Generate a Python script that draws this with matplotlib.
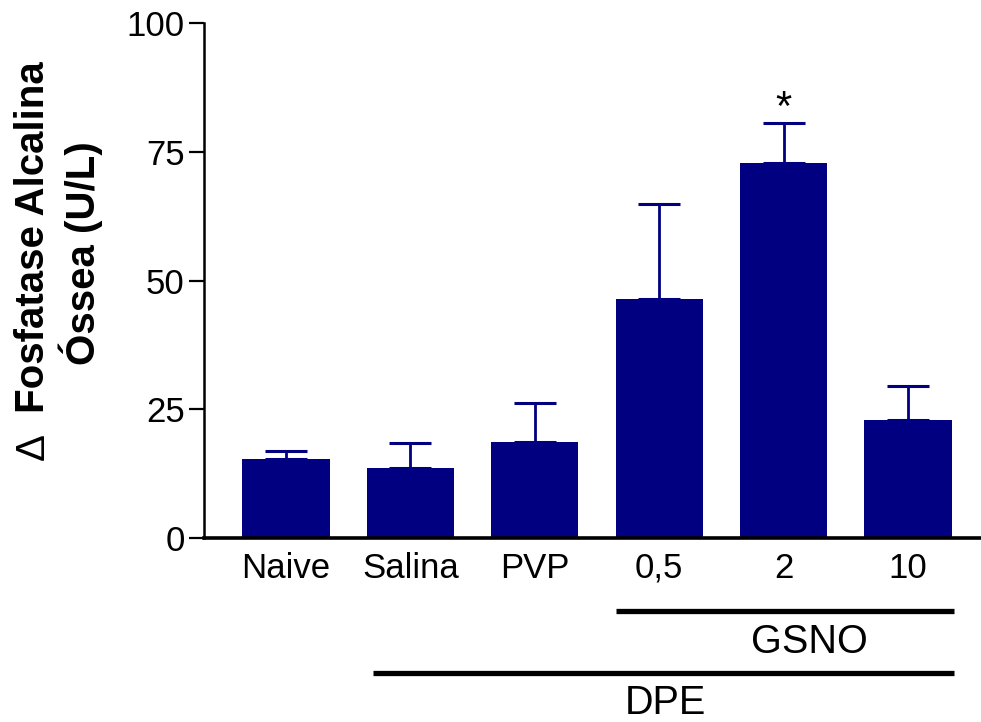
import matplotlib
matplotlib.use("Agg")
import matplotlib.pyplot as plt
import numpy as np

plt.rcParams['font.family'] = ['Liberation Sans', 'DejaVu Sans']

categories = ["Naive", "Salina", "PVP", "0,5", "2", "10"]
means = [15.3, 13.6, 18.7, 46.5, 72.8, 22.9]
sem = [1.5, 4.9, 7.6, 18.4, 7.7, 6.6]
yticks = [0, 25, 50, 75, 100]

navy = "#000080"

fig = plt.figure(figsize=(9.81, 7.22), dpi=100)
ax = fig.add_axes([204/981, (722-538)/722, 1 - 204/981, (538-23)/722])

x = np.arange(len(categories))
ax.bar(x, means, width=0.70, color=navy, edgecolor=navy, linewidth=0, zorder=2)
ax.errorbar(x, means, yerr=[np.zeros(len(sem)), sem], fmt="none", ecolor=navy,
            elinewidth=2, capsize=15, capthick=2.2, zorder=1)

ax.set_xlim(-0.659, 5.587)
ax.set_ylim(0, 100)
ax.set_yticks(yticks)
ax.set_yticklabels([str(v) for v in yticks])
ax.set_xticks(x)
ax.set_xticklabels(categories)
ax.tick_params(axis='y', length=10.5, width=1.6, pad=3.5, labelsize=25)
ax.tick_params(axis='x', length=0, pad=10, labelsize=25)
for s in ['top', 'right']:
    ax.spines[s].set_visible(False)
ax.spines['left'].set_linewidth(1.8)
ax.spines['bottom'].set_linewidth(2.6)

# significance star
ax.text(4, 83.4, "*", ha='center', va='center', fontsize=30)

# group lines
ax.plot([2.653, 5.37], [-14.2, -14.2], color='black', lw=3.8, clip_on=False, solid_capstyle='butt')
ax.text(4.21, -20.2, "GSNO", ha='center', va='center', fontsize=28.5)
ax.plot([0.70, 5.37], [-26.2, -26.2], color='black', lw=3.8, clip_on=False, solid_capstyle='butt')
ax.text(3.05, -32.0, "DPE", ha='center', va='center', fontsize=28.5)

fig.text(33/981, 1 - 446/722, "\u0394", rotation=90,
         ha='center', va='center', fontsize=29)
fig.text(33/981, 1 - 237/722, "Fosfatase Alcalina", rotation=90,
         ha='center', va='center', fontsize=29, fontweight='bold')
fig.text(81/981, 1 - 253/722, "Óssea (U/L)", rotation=90,
         ha='center', va='center', fontsize=29, fontweight='bold')

fig.savefig("out.png", dpi=100)
